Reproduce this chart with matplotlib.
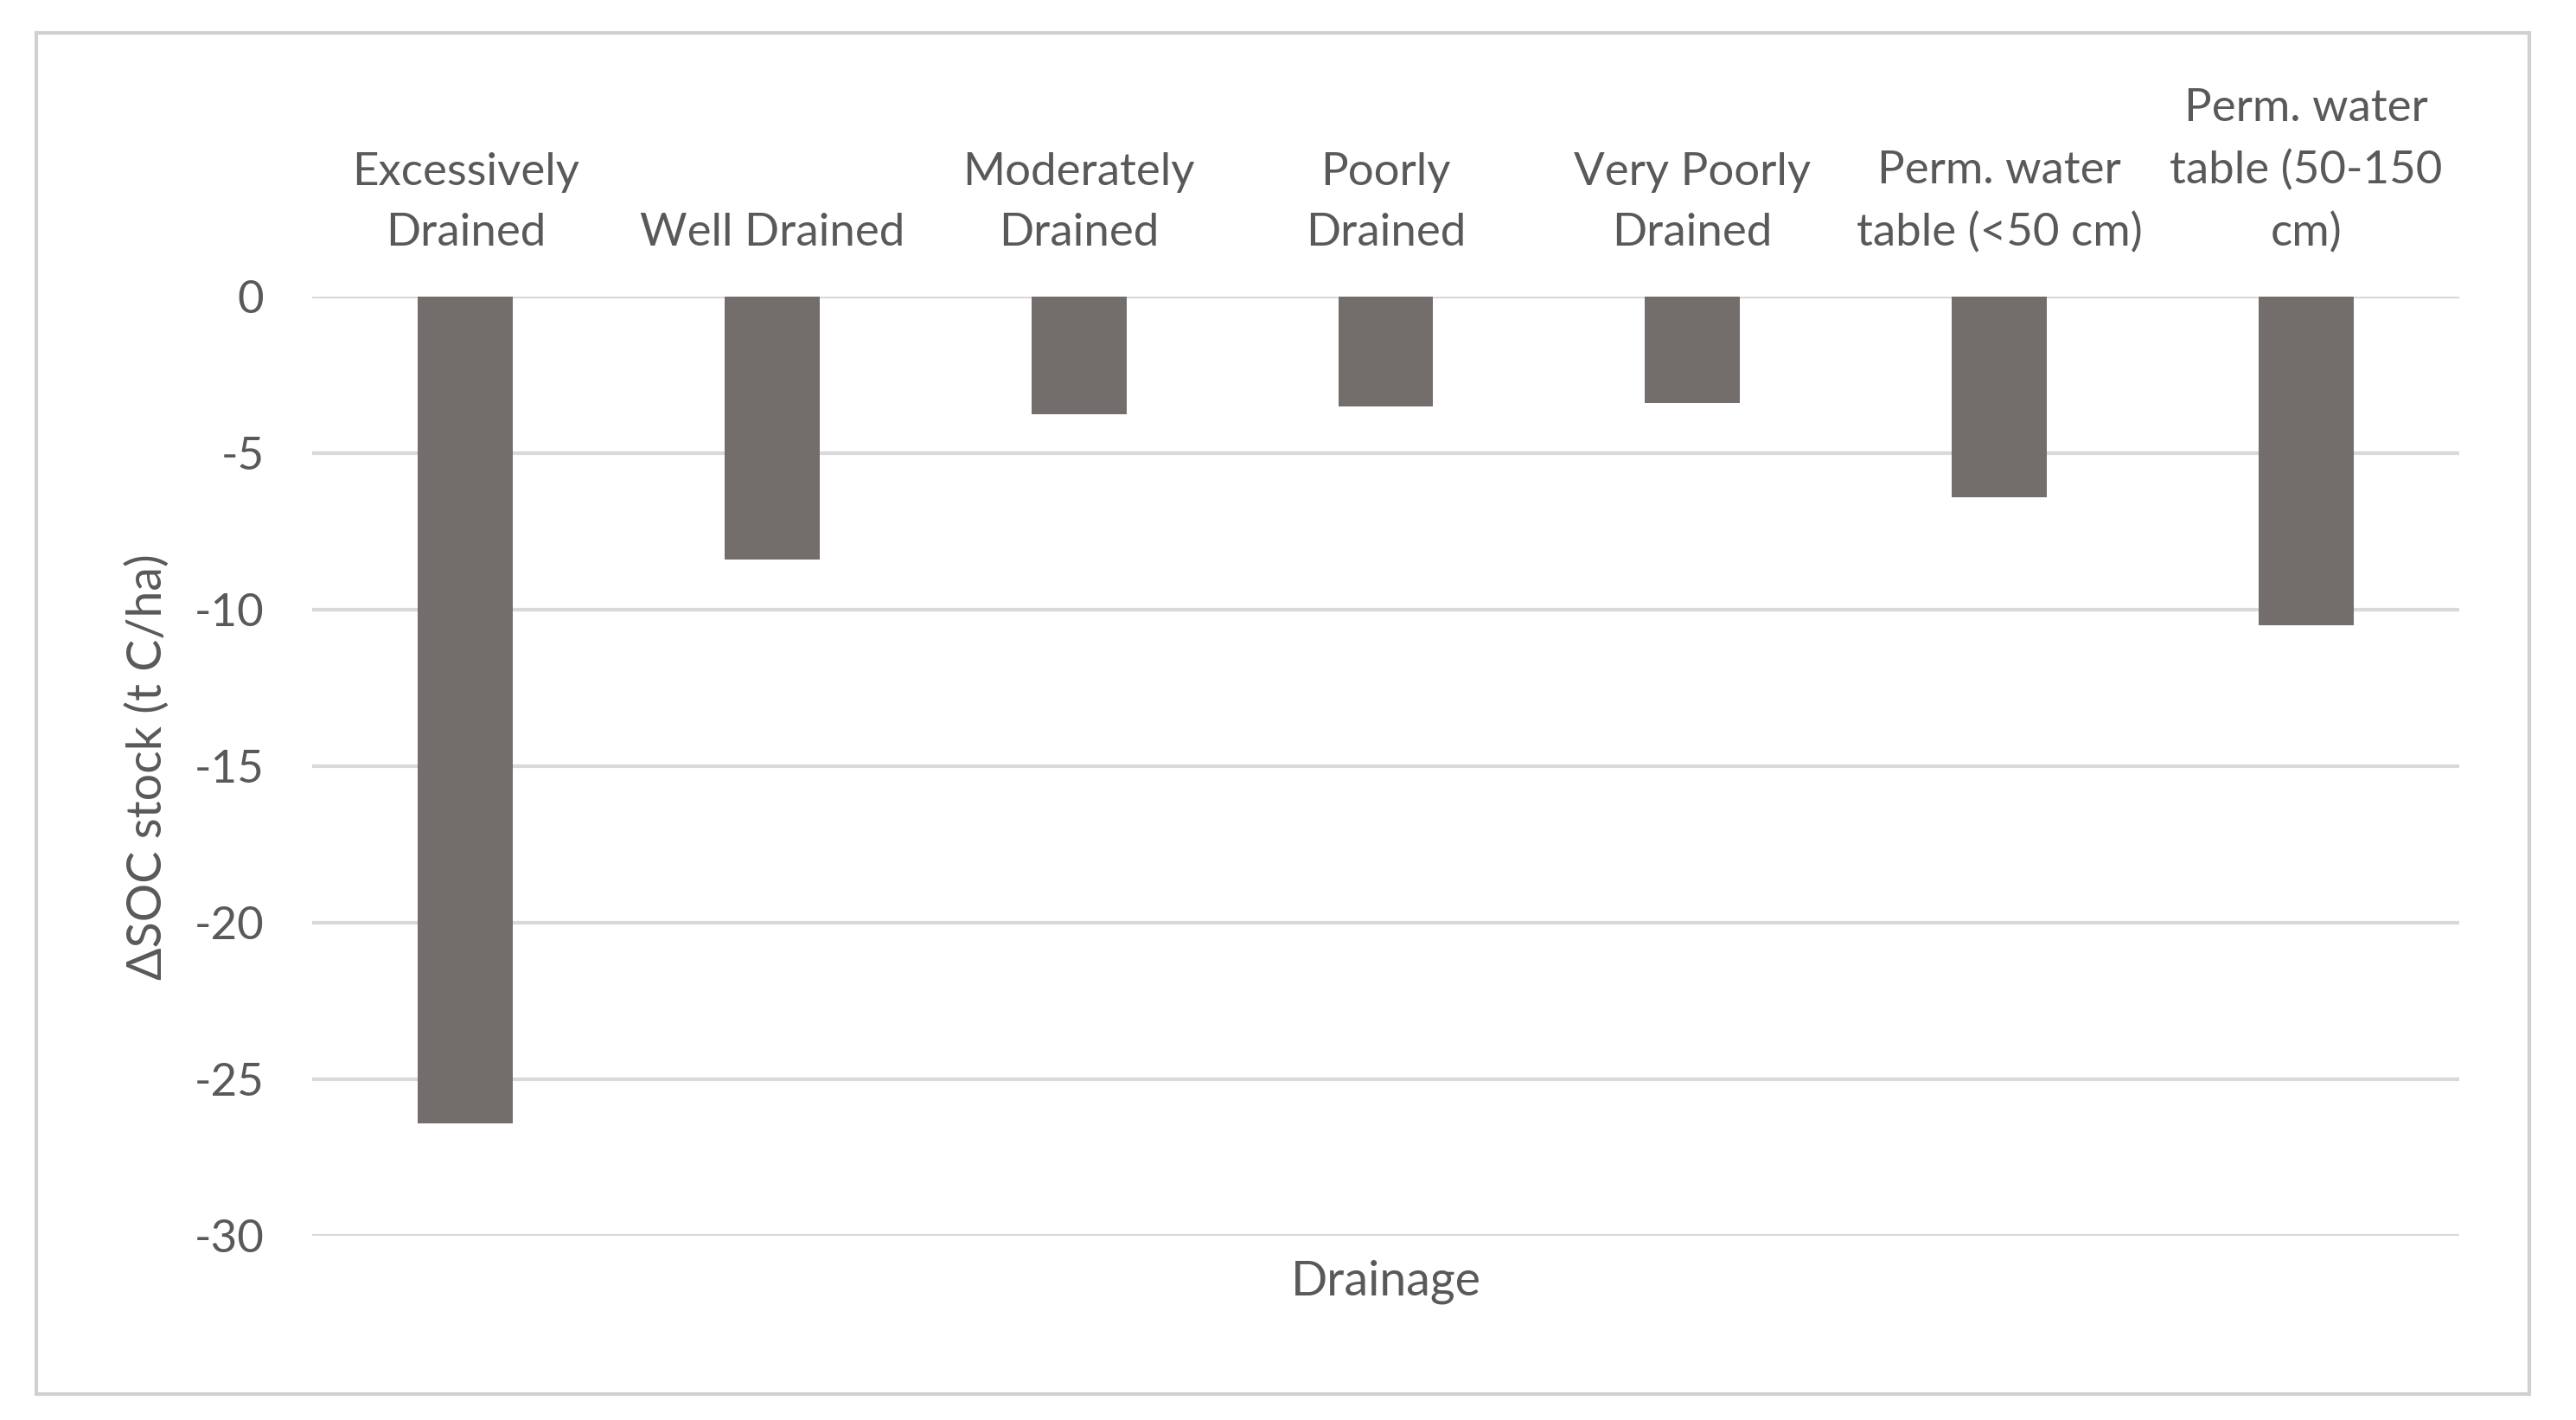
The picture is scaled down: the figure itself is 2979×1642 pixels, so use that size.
import matplotlib
matplotlib.use("Agg")
import matplotlib.pyplot as plt
from matplotlib.patches import Rectangle
import numpy as np

categories = [
    "Excessively\nDrained",
    "Well Drained",
    "Moderately\nDrained",
    "Poorly\nDrained",
    "Very Poorly\nDrained",
    "Perm. water\ntable (<50 cm)",
    "Perm. water\ntable (50-150\ncm)",
]
delta_soc = [-26.4, -8.4, -3.75, -3.5, -3.4, -6.4, -10.5]
y_ticks = [0, -5, -10, -15, -20, -25, -30]

TEXT = "#595959"
BAR = "#736e6b"
GRID = "#d9d9d9"

plt.rcParams["font.family"] = ["Lato", "DejaVu Sans"]

fig = plt.figure(figsize=(29.79, 16.42), dpi=100)
fig.patches.append(Rectangle((42 / 2979, 1 - 1612 / 1642), (2925 - 42) / 2979, (1612 - 38) / 1642,
                             transform=fig.transFigure, fill=False, edgecolor="#d0d0d0", linewidth=3))

ax = fig.add_axes([361 / 2979, 1 - 1429 / 1642, (2844 - 361) / 2979, (1429 - 343) / 1642])
x = np.arange(len(categories))
ax.bar(x, delta_soc, width=0.31, color=BAR, zorder=3)

ax.set_xlim(-0.5, len(categories) - 0.5)
ax.set_ylim(-30, 0)
ax.set_yticks(y_ticks)
ax.set_yticklabels([str(v) for v in y_ticks])
ax.yaxis.grid(True, color=GRID, linewidth=3, zorder=0)
ax.set_axisbelow(True)
for s in ax.spines.values():
    s.set_visible(False)

ax.xaxis.tick_top()
ax.set_xticks(x)
ax.set_xticklabels(categories, fontsize=38, color=TEXT, linespacing=1.6)
ax.tick_params(axis="x", length=0, pad=36)
ax.tick_params(axis="y", length=0, pad=40, labelsize=38, labelcolor=TEXT)

fig.text(171 / 2979, 1 - 887 / 1642, "ΔSOC stock (t C/ha)", rotation=90, ha="center", va="center",
         fontsize=40, color=TEXT)
fig.text((361 + 2844) / 2 / 2979, 1 - 1482 / 1642, "Drainage", ha="center", va="center",
         fontsize=40, color=TEXT)

fig.savefig("out.png", dpi=100, facecolor="white")
